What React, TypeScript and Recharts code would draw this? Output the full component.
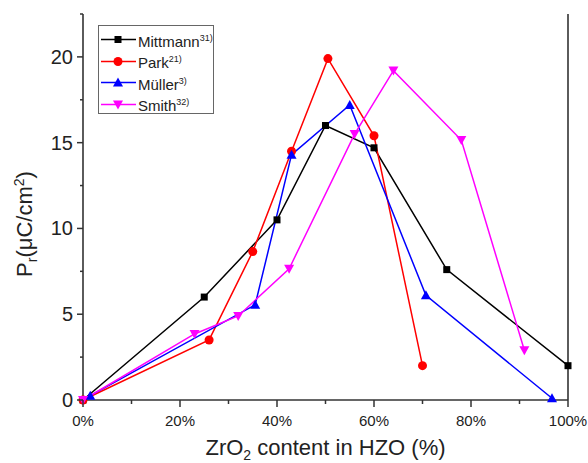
import { LineChart, Line, XAxis, YAxis, Label } from 'recharts';

// ZrO2 content (%) and remanent polarization Pr (uC/cm2) per study
const mittmannX = [0, 25, 40, 50, 60, 75, 100];
const mittmannY = [0, 6.0, 10.5, 16.0, 14.7, 7.6, 2.0];

const parkX = [0, 26, 35, 43, 50.5, 60, 70];
const parkY = [0, 3.5, 8.65, 14.5, 19.9, 15.4, 2.0];

const mullerX = [1.5, 35.5, 43, 55, 70.7, 96.7];
const mullerY = [0.25, 5.55, 14.3, 17.2, 6.1, 0.1];

const smithX = [0, 23, 32, 42.5, 56, 64, 78, 91];
const smithY = [0, 3.85, 4.9, 7.65, 15.5, 19.2, 15.15, 2.9];

const X_TICKS = [0, 10, 20, 30, 40, 50, 60, 70, 80, 90, 100];
const Y_TICKS = [0, 2.5, 5, 7.5, 10, 12.5, 15, 17.5, 20, 22.5];
const RIGHT_TICKS = [0, 1, 2, 3, 4, 5, 6, 7, 8, 9, 10];

const AXIS = '#333';
const TEXT = '#222';
const FONT = '"Liberation Sans", Arial, sans-serif';

type Shape = 'square' | 'circle' | 'up' | 'down';

const zip = (xs: number[], ys: number[]) => xs.map((x, i) => ({ x, y: ys[i] }));

const SERIES = [
  { name: 'Mittmann', ref: '31)', color: '#000000', shape: 'square' as Shape, data: zip(mittmannX, mittmannY) },
  { name: 'Park', ref: '21)', color: '#ff0000', shape: 'circle' as Shape, data: zip(parkX, parkY) },
  { name: 'Müller', ref: '3)', color: '#0000ff', shape: 'up' as Shape, data: zip(mullerX, mullerY) },
  { name: 'Smith', ref: '32)', color: '#ff00ff', shape: 'down' as Shape, data: zip(smithX, smithY) },
];

function Marker({ cx, cy, shape, color }: { cx: number; cy: number; shape: Shape; color: string }) {
  if (shape === 'square') return <rect x={cx - 3.5} y={cy - 3.5} width={7} height={7} fill={color} />;
  if (shape === 'circle') return <circle cx={cx} cy={cy} r={4.5} fill={color} />;
  if (shape === 'up')
    return <polygon points={`${cx - 5},${cy + 4} ${cx + 5},${cy + 4} ${cx},${cy - 5}`} fill={color} />;
  return <polygon points={`${cx - 5},${cy - 4} ${cx + 5},${cy - 4} ${cx},${cy + 5}`} fill={color} />;
}

const makeDot = (shape: Shape, color: string) => (props: any) => {
  if (props.cx == null || props.cy == null) return <g key={`${shape}-${props.index}`} />;
  return <Marker key={`${shape}-${props.index}`} cx={props.cx} cy={props.cy} shape={shape} color={color} />;
};

function LeftTick({ x, y, payload }: any) {
  const v = payload.value;
  const major = v % 5 === 0;
  return (
    <g>
      <line x1={x} x2={x - (major ? 6 : 3)} y1={y} y2={y} stroke={AXIS} strokeWidth={1.5} />
      {major && (
        <text x={x - 10} y={y + 7} textAnchor="end" fontSize={20} fill={TEXT} fontFamily={FONT}>
          {v}
        </text>
      )}
    </g>
  );
}

function BottomTick({ x, y, payload }: any) {
  const v = payload.value;
  const major = v % 20 === 0;
  return (
    <g>
      <line x1={x} x2={x} y1={y} y2={y + (major ? 7 : 4)} stroke={AXIS} strokeWidth={1.5} />
      {major && (
        <text x={x} y={y + 26} textAnchor="middle" fontSize={15} fill={TEXT} fontFamily={FONT}>
          {`${v}%`}
        </text>
      )}
    </g>
  );
}

function TopTick({ x, y }: any) {
  return <line x1={x} x2={x} y1={y} y2={y + 5} stroke={AXIS} strokeWidth={1.5} />;
}

function RightTick({ x, y, payload }: any) {
  const major = payload.value % 2 === 0;
  return <line x1={x} x2={x - (major ? 7 : 4)} y1={y} y2={y} stroke={AXIS} strokeWidth={1.5} />;
}

function XTitle({ viewBox }: any) {
  const cx = viewBox.x + viewBox.width / 2;
  return (
    <text x={cx} y={viewBox.y + 54.5} textAnchor="middle" fontSize={22} fill={TEXT} fontFamily={FONT}>
      ZrO
      <tspan dy={5} fontSize={14}>2</tspan>
      <tspan dy={-5}> content in HZO (%)</tspan>
    </text>
  );
}

function YTitle({ viewBox }: any) {
  const cx = viewBox.x + 32;
  const cy = viewBox.y + viewBox.height / 2 + 17;
  return (
    <text
      x={cx}
      y={cy}
      textAnchor="middle"
      fontSize={22}
      fill={TEXT}
      fontFamily={FONT}
      transform={`rotate(-90 ${cx} ${cy})`}
    >
      P
      <tspan dy={5} fontSize={14}>r</tspan>
      <tspan dy={-5}>(μC/cm</tspan>
      <tspan dy={-8} fontSize={14}>2</tspan>
      <tspan dy={8}>)</tspan>
    </text>
  );
}

function LegendBox() {
  return (
    <div
      style={{
        position: 'absolute',
        left: 98,
        top: 25,
        width: 116,
        height: 89,
        boxSizing: 'border-box',
        border: '1px solid #666',
        background: '#fff',
        paddingTop: 3,
        fontFamily: FONT,
      }}
    >
      {SERIES.map((s) => (
        <div key={s.name} style={{ display: 'flex', alignItems: 'center', height: 21.5 }}>
          <svg width={39} height={21} style={{ flexShrink: 0 }}>
            <line x1={2} x2={37} y1={10.5} y2={10.5} stroke={s.color} strokeWidth={1.5} />
            <Marker cx={19} cy={10.5} shape={s.shape} color={s.color} />
          </svg>
          <span style={{ fontSize: 15, color: TEXT, lineHeight: '21px', whiteSpace: 'nowrap' }}>
            {s.name}
            <sup style={{ fontSize: 9, verticalAlign: 6 }}>{s.ref}</sup>
          </span>
        </div>
      ))}
    </div>
  );
}

export default function App() {
  return (
    <div style={{ position: 'absolute', left: 0, top: 0, width: 588, height: 463, background: '#fff' }}>
      <LineChart width={588} height={463} margin={{ top: 14, right: 0, bottom: 1, left: 0 }}>
        <XAxis
          type="number"
          dataKey="x"
          domain={[0, 100]}
          ticks={X_TICKS}
          interval={0}
          height={62}
          tickLine={false}
          tickSize={0}
          tickMargin={0}
          tick={<BottomTick />}
          axisLine={{ stroke: AXIS, strokeWidth: 1.6 }}
        >
          <Label content={<XTitle />} />
        </XAxis>
        <XAxis
          xAxisId="top"
          orientation="top"
          type="number"
          domain={[0, 100]}
          ticks={X_TICKS}
          interval={0}
          height={0}
          tickLine={false}
          tickSize={0}
          tickMargin={0}
          tick={<TopTick />}
          axisLine={{ stroke: AXIS, strokeWidth: 1.6 }}
        />
        <YAxis
          type="number"
          domain={[0, 22.5]}
          ticks={Y_TICKS}
          interval={0}
          width={83}
          tickLine={false}
          tickSize={0}
          tickMargin={0}
          tick={<LeftTick />}
          axisLine={{ stroke: AXIS, strokeWidth: 1.6 }}
        >
          <Label content={<YTitle />} />
        </YAxis>
        <YAxis
          yAxisId="right"
          orientation="right"
          type="number"
          domain={[0, 10]}
          ticks={RIGHT_TICKS}
          interval={0}
          width={20}
          tickLine={false}
          tickSize={0}
          tickMargin={0}
          tick={<RightTick />}
          axisLine={{ stroke: AXIS, strokeWidth: 1.6 }}
        />
        {SERIES.map((s) => (
          <Line
            key={s.name}
            data={s.data}
            dataKey="y"
            name={s.name}
            type="linear"
            stroke={s.color}
            strokeWidth={1.5}
            dot={makeDot(s.shape, s.color)}
            activeDot={false}
            isAnimationActive={false}
          />
        ))}
      </LineChart>
      <LegendBox />
    </div>
  );
}
